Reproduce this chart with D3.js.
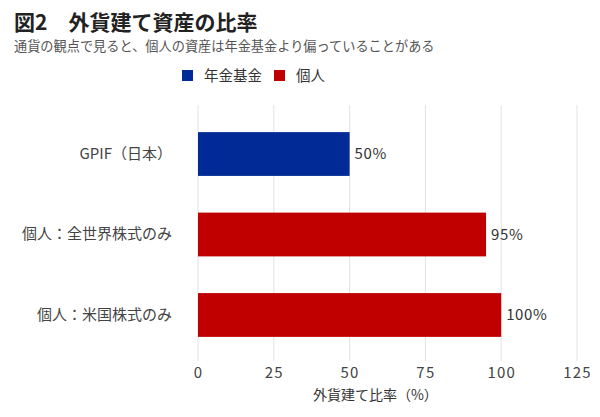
<!DOCTYPE html>
<html lang="ja">
<head>
<meta charset="UTF-8">
<title>図2 外貨建て資産の比率</title>
<style>
  body { margin:0; background:#fff; }
  svg { display:block; font-family:"Noto Sans CJK JP", "Noto Sans", sans-serif; }
  .tick text { fill:#444; font-size:15px; }
</style>
</head>
<body>
<svg id="chart"></svg>
<script src="https://cdnjs.cloudflare.com/ajax/libs/d3/7.8.5/d3.min.js"></script>
<script>
// data
const categories = ["GPIF（日本）", "個人：全世界株式のみ", "個人：米国株式のみ"];
const values = [50, 95, 100];
const groups = ["年金基金", "個人", "個人"];
const legendItems = ["年金基金", "個人"];
const xTicks = [0, 25, 50, 75, 100, 125];

const width = 600, height = 417;
const colors = { "年金基金": "#012a96", "個人": "#c00000" };

const svg = d3.select("#chart")
    .attr("width", width)
    .attr("height", height);

// title
svg.append("text")
    .attr("x", 14).attr("y", 30)
    .attr("font-size", 21).attr("font-weight", "bold").attr("fill", "#222")
    .text("図2\u3000外貨建て資産の比率");

svg.append("text")
    .attr("x", 14).attr("y", 51)
    .attr("font-size", 13.2).attr("fill", "#555")
    .text("通貨の観点で見ると、個人の資産は年金基金より偏っていることがある");

// legend
const legend = svg.append("g").attr("transform", "translate(182,70)");
const lx = [0, 92];
legendItems.forEach((name, i) => {
    const g = legend.append("g").attr("transform", `translate(${lx[i]},0)`);
    g.append("rect").attr("width", 11).attr("height", 11).attr("fill", colors[name]);
    g.append("text").attr("x", 22).attr("y", 10.5)
        .attr("font-size", 14.5).attr("fill", "#333").text(name);
});

// scales
const x = d3.scaleLinear().domain([0, 125]).range([198, 577]);
const y = d3.scaleBand().domain(categories)
    .range([112, 357]).paddingInner(0.456).paddingOuter(0.25);

// grid
svg.append("g")
    .selectAll("line")
    .data(xTicks)
    .join("line")
    .attr("x1", d => x(d)).attr("x2", d => x(d))
    .attr("y1", 105).attr("y2", 361)
    .attr("stroke", "#e2e2e2").attr("stroke-width", 1);

// x axis
const xAxis = svg.append("g")
    .attr("transform", "translate(0,362)")
    .call(d3.axisBottom(x).tickValues(xTicks).tickSize(0).tickPadding(3));
xAxis.select(".domain").remove();
xAxis.selectAll("text")
    .attr("font-family", "'Noto Sans CJK JP', sans-serif")
    .attr("font-size", 15).attr("letter-spacing", 1.2)
    .attr("fill", "#555").attr("dy", "0.85em");

svg.append("text")
    .attr("x", x(58.5)).attr("y", 400)
    .attr("text-anchor", "middle")
    .attr("font-size", 14).attr("fill", "#333")
    .text("外貨建て比率（%）");

// y labels
const yAxis = svg.append("g")
    .attr("transform", "translate(176,0)")
    .call(d3.axisLeft(y).tickSize(0).tickPadding(4));
yAxis.select(".domain").remove();
yAxis.selectAll("text").attr("font-family", "'Noto Sans CJK JP', sans-serif").attr("font-size", 15.5).attr("fill", "#333");

// bars
svg.append("g")
    .selectAll("rect")
    .data(categories)
    .join("rect")
    .attr("x", x(0))
    .attr("y", d => y(d))
    .attr("width", (d, i) => x(values[i]) - x(0))
    .attr("height", y.bandwidth())
    .attr("fill", (d, i) => colors[groups[i]]);

// value labels
svg.append("g")
    .selectAll("text")
    .data(categories)
    .join("text")
    .attr("x", (d, i) => x(values[i]) + 5)
    .attr("y", d => y(d) + y.bandwidth() / 2)
    .attr("dy", "0.35em")
    .attr("font-size", 15).attr("letter-spacing", 0.6).attr("fill", "#333")
    .text((d, i) => values[i] + "%");
</script>
</body>
</html>
